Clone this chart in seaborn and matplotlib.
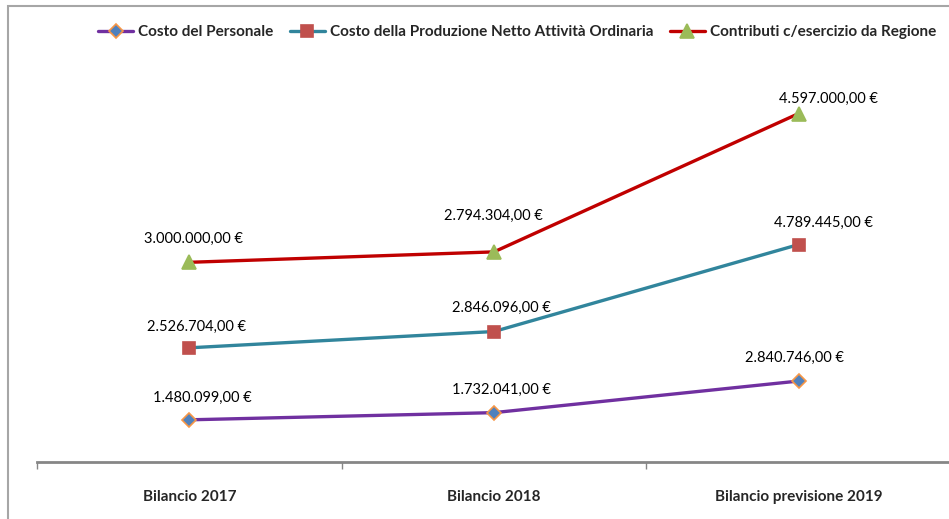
import numpy as np
import pandas as pd
import seaborn as sns
import matplotlib
matplotlib.use("Agg")
import matplotlib.pyplot as plt
from matplotlib.patches import Rectangle

# dati (linee in pila)
categorie = ["Bilancio 2017", "Bilancio 2018", "Bilancio previsione 2019"]
serie = [
    "Costo del Personale",
    "Costo della Produzione Netto Attività Ordinaria",
    "Contributi c/esercizio da Regione",
]
costo_personale = [1480099, 1732041, 2840746]
costo_produzione = [2526704, 2846096, 4789445]
contributi_regione = [3000000, 2794304, 4597000]

valori = np.array([costo_personale, costo_produzione, contributi_regione], dtype=float)
cumulati = np.cumsum(valori, axis=0)

righe = []
for i, nome in enumerate(serie):
    for j, cat in enumerate(categorie):
        righe.append({"serie": nome, "pos": j, "categoria": cat,
                      "valore": valori[i, j], "cumulato": cumulati[i, j]})
df = pd.DataFrame(righe)

# stile delle serie
stili = {
    serie[0]: dict(color="#7030A0", marker="D", mfc="#4F81BD", mec="#F79646", ms=7),
    serie[1]: dict(color="#31859C", marker="s", mfc="#C0504D", mec="#C0504D", ms=8),
    serie[2]: dict(color="#C00000", marker="^", mfc="#9BBB59", mec="#9BBB59", ms=10),
}
# spostamenti delle etichette (pixel)
spost = {
    serie[0]: [(13, 22), (8, 23), (-4, 23)],
    serie[1]: [(7, 21), (7, 24), (25, 22)],
    serie[2]: [(4, 23), (-1, 36), (30, 15)],
}

sns.set_style("white")
plt.rcParams["font.family"] = ["Lato", "DejaVu Sans"]

fig = plt.figure(figsize=(9.49, 5.19), dpi=100)
ax = fig.add_axes([37 / 949, 1 - 462 / 519, 914 / 949, (462 - 63) / 519])

for nome in serie:
    st = stili[nome]
    sub = df[df["serie"] == nome]
    sns.lineplot(data=sub, x="pos", y="cumulato", ax=ax, color=st["color"],
                 linewidth=2.4, marker=st["marker"], markersize=st["ms"],
                 markerfacecolor=st["mfc"], markeredgecolor=st["mec"],
                 markeredgewidth=1.2, label=nome, legend=False)
    for j, (_, r) in enumerate(sub.iterrows()):
        testo = "{:,.2f} €".format(r["valore"]).replace(",", "X").replace(".", ",").replace("X", ".")
        dx, dy = spost[nome][j]
        ax.annotate(testo, (r["pos"], r["cumulato"]), xytext=(dx, dy),
                    textcoords="offset pixels", ha="center", va="center",
                    fontsize=10.5, color="#000000")

ax.set_xlim(-0.5, 2.5)
ax.set_ylim(0, 14e6)
ax.set_xlabel("")
ax.set_ylabel("")
ax.set_yticks([])
ax.set_xticks([-0.5, 0.5, 1.5, 2.5])
ax.set_xticklabels([])
ax.tick_params(axis="x", which="major", bottom=True, length=5, width=1,
               color="#868686", direction="out")
ax.set_xticks(range(len(categorie)), minor=True)
ax.set_xticklabels(categorie, minor=True, fontweight="bold", fontsize=11)
ax.tick_params(axis="x", which="minor", bottom=True, length=0, pad=20)
for s in ["left", "right", "top"]:
    ax.spines[s].set_visible(False)
ax.spines["bottom"].set_color("#868686")
ax.spines["bottom"].set_linewidth(2)
ax.grid(False)

h, l = ax.get_legend_handles_labels()
fig.legend(h, l, loc="center", bbox_to_anchor=(517 / 949, 1 - 32 / 519), ncol=3,
           frameon=False, handlelength=2.3, columnspacing=1.1, handletextpad=0.3,
           prop={"weight": "bold", "size": 11})

fig.patches.append(Rectangle((8 / 949, -0.1), 1.2, 1.1 - 6 / 519, transform=fig.transFigure,
                             fill=False, edgecolor="#A6A6A6", linewidth=1.5))

fig.savefig("out.png", dpi=100)
